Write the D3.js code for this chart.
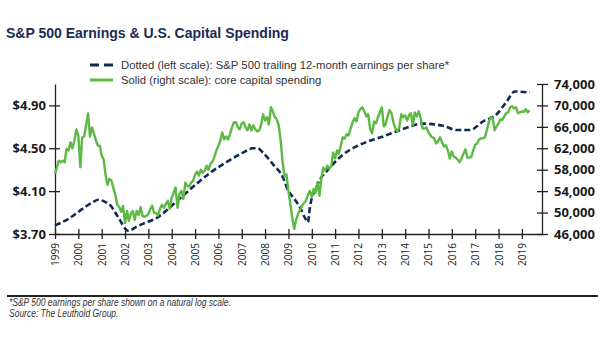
<!DOCTYPE html>
<html>
<head>
<meta charset="utf-8" />
<title>S&amp;P 500 Earnings &amp; U.S. Capital Spending</title>
<style>
  body { margin: 0; background: #fff; }
  svg { display: block; }
  .tick-lbl { font-family: "Open Sans", sans-serif; font-weight: 700; font-size: 13px; fill: #1a1a1a; }
  .year-lbl { font-family: "Open Sans", sans-serif; font-size: 10px; fill: #222; }
</style>
<script src="https://d3js.org/d3.v7.min.js"></script>
</head>
<body>
<svg id="chart"></svg>
<script>

// S&P 500 trailing 12-month EPS, natural log (left scale)
const earnYears = [1999.00, 1999.64, 2000.21, 2000.64, 2000.85, 2001.14, 2001.36, 2001.64, 2001.86, 2002.00,
                   2002.14, 2002.50, 2002.93, 2003.36, 2003.93, 2004.49, 2005.07, 2005.64, 2006.49, 2007.05,
                   2007.48, 2007.69, 2007.91, 2008.34, 2008.76, 2008.98, 2009.28, 2009.49, 2009.71, 2009.83,
                   2009.92, 2010.22, 2010.78, 2011.33, 2011.93, 2012.49, 2012.92, 2013.90, 2014.76, 2015.62,
                   2016.22, 2016.77, 2017.33, 2017.93, 2018.36, 2018.70, 2019.34];
const earnLog = [3.78, 3.85, 3.94, 4.00, 4.02, 4.00, 3.97, 3.88, 3.80, 3.75,
                 3.73, 3.77, 3.81, 3.85, 3.95, 4.06, 4.17, 4.27, 4.39, 4.46,
                 4.50, 4.50, 4.46, 4.35, 4.23, 4.11, 4.02, 3.95, 3.85, 3.81,
                 3.95, 4.15, 4.32, 4.44, 4.52, 4.57, 4.60, 4.68, 4.73, 4.71,
                 4.67, 4.67, 4.75, 4.82, 4.94, 5.03, 5.02];

// core capital spending, monthly from Jan 1999 (right scale)
const capexStart = [1999, 0];
const capexValues = [
  57200, 58450, 59700, 59350, 59700, 59400, 61900, 61600, 63100, 62000, 63500, 65500, // 1999
  64400, 58450, 64000, 64200, 66300, 68500, 64200, 65900, 64800, 63500, 62500, 62500, // 2000
  60650, 59900, 57100, 55200, 56300, 55950, 54650, 53300, 51450, 51050, 50150, 51250, // 2001
  48100, 50300, 48450, 49750, 50300, 48650, 50300, 49550, 51050, 49400, 49200, 49400, // 2002
  49700, 50700, 51250, 49950, 49950, 49450, 50700, 51450, 50900, 51600, 52200, 50700, // 2003
  52750, 53700, 54700, 50900, 53500, 54050, 52550, 55600, 55000, 54850, 55600, 55950, // 2004
  57100, 57650, 56900, 58000, 57450, 57850, 58750, 58000, 59150, 59500, 60450, 61600, // 2005
  62500, 63450, 64950, 63650, 64200, 63650, 64600, 65900, 66850, 66850, 65900, 65550, // 2006
  66650, 66850, 65900, 65350, 66450, 65350, 66300, 65550, 65150, 65350, 66450, 68350, // 2007
  67200, 67800, 66450, 69650, 68900, 67850, 67400, 66300, 63450, 59500, 56700, 57150, // 2008
  53900, 51450, 49000, 46950, 48650, 49750, 50500, 51250, 51800, 52200, 53300, 54050, // 2009
  52950, 54450, 53700, 55600, 53150, 56500, 58400, 57850, 58750, 58200, 58600, 61200, // 2010
  60100, 61600, 61000, 62550, 64050, 63850, 64600, 64400, 65700, 66850, 67600, 67000, // 2011
  68700, 69300, 69650, 68900, 67950, 68350, 65700, 64800, 67000, 66650, 67800, 68700, // 2012
  69650, 66100, 66450, 67950, 69100, 68550, 66850, 65700, 65150, 65900, 68350, 67800, // 2013
  68150, 67200, 68150, 68550, 66300, 68700, 67950, 68900, 67600, 65700, 65700, 65900, // 2014
  64950, 64400, 64050, 63850, 62900, 63300, 64050, 63100, 62350, 62550, 61600, 60100, // 2015
  61400, 60450, 60250, 59900, 59400, 60100, 61000, 61800, 60250, 60250, 60450, 61600, // 2016
  62700, 62900, 63650, 63850, 63850, 64050, 65350, 66850, 67800, 67600, 65350, 66100, // 2017
  66650, 67400, 67300, 67950, 68550, 68700, 69650, 69850, 69450, 69650, 68550, 68700, // 2018
  68900, 68800, 69300, 68700, 69100                                                    // 2019
];

const leftTicks = [3.70, 4.10, 4.50, 4.90];
const rightTicks = [46000, 50000, 54000, 58000, 62000, 66000, 70000, 74000];

const W = 605, H = 341;
const navy = "#0f2b54", green = "#5cb944";

function yearToDate(y) {
    const yr = Math.floor(y);
    const start = new Date(yr, 0, 1), end = new Date(yr + 1, 0, 1);
    return new Date(+start + (y - yr) * (end - start));
}

const earnings = earnYears.map((y, i) => ({ date: yearToDate(y), v: earnLog[i] }));
const capex = capexValues.map((v, i) => ({ date: new Date(capexStart[0], capexStart[1] + i, 1), v: v }));

const svg = d3.select("#chart").attr("width", W).attr("height", H);

const x = d3.scaleTime()
    .domain([new Date(1999, 0, 1), new Date(2019, 10, 12)])
    .range([55, 542]);
const yL = d3.scaleLinear().domain([3.70, 5.10]).range([234, 84]);
const yR = d3.scaleLinear().domain([46000, 74000]).range([234, 84]);

/* title + legend */

svg.append("text")
    .attr("x", 6).attr("y", 38)
    .style("font-family", "Liberation Sans, Arial, sans-serif")
    .style("font-weight", "700").style("font-size", "14px")
    .style("fill", "#1b2a55")
    .text("S&P 500 Earnings & U.S. Capital Spending");

const legend = svg.append("g").attr("transform", "translate(90,0)");
const legendItems = [
    { label: "Dotted (left scale): S&P 500 trailing 12-month earnings per share*", color: navy, dash: "9,5", y: 65 },
    { label: "Solid (right scale): core capital spending", color: green, dash: null, y: 80 }
];
legendItems.forEach(d => {
    legend.append("line")
        .attr("x1", 0).attr("x2", 23).attr("y1", d.y).attr("y2", d.y)
        .style("stroke", d.color).style("stroke-width", 3)
        .style("stroke-dasharray", d.dash);
    legend.append("text")
        .attr("x", 31).attr("y", d.y + 4)
        .style("font-family", "Liberation Sans, Arial, sans-serif")
        .style("font-size", "11.3px").style("fill", "#333")
        .text(d.label);
});

/* axes */

const xAxis = svg.append("g")
    .attr("transform", "translate(0,234)")
    .call(d3.axisBottom(x).ticks(d3.timeYear.every(1)).tickFormat(d3.timeFormat("%Y")).tickSizeOuter(0));
xAxis.selectAll(".tick line").attr("y1", -5).attr("y2", 5);
xAxis.selectAll(".tick text")
    .attr("class", "year-lbl")
    .attr("transform", "rotate(-90)")
    .attr("x", -9).attr("y", 0).attr("dy", "0.35em")
    .style("text-anchor", "end");

const leftAxis = svg.append("g")
    .attr("transform", "translate(55,0)")
    .call(d3.axisLeft(yL).tickValues(leftTicks).tickFormat(d => "$" + d.toFixed(2)).tickSizeOuter(0));
leftAxis.selectAll(".tick line").attr("x1", -6).attr("x2", 5);
leftAxis.selectAll(".tick text").attr("class", "tick-lbl").attr("x", -9);

const rightAxis = svg.append("g")
    .attr("transform", "translate(542,0)")
    .call(d3.axisRight(yR).tickValues(rightTicks).tickFormat(d3.format(",")).tickSizeOuter(0));
rightAxis.selectAll(".tick line").attr("x1", -5).attr("x2", 6);
rightAxis.selectAll(".tick text").attr("class", "tick-lbl").attr("x", 12);

svg.selectAll(".domain, .tick line").style("stroke", "#222").style("stroke-width", 1.3);

/* series */

svg.append("path")
    .datum(earnings)
    .attr("d", d3.line().x(d => x(d.date)).y(d => yL(d.v)).curve(d3.curveMonotoneX))
    .style("fill", "none").style("stroke", navy)
    .style("stroke-width", 2.6).style("stroke-dasharray", "6,3");

svg.append("path")
    .datum(capex)
    .attr("d", d3.line().x(d => x(d.date)).y(d => yR(d.v)))
    .style("fill", "none").style("stroke", green)
    .style("stroke-width", 2.4).style("stroke-linejoin", "round");

/* footnote */

svg.append("line")
    .attr("x1", 7).attr("x2", 598).attr("y1", 296).attr("y2", 296)
    .style("stroke", "#222").style("stroke-width", 2);

// narrow italic look: squeeze regular italic horizontally
const notes = ["*S&P 500 earnings per share shown on a natural log scale.", "Source: The Leuthold Group."];
svg.append("g")
    .attr("transform", "translate(9,0) scale(0.85,1)")
    .selectAll(".note")
    .data(notes)
    .enter()
    .append("text")
    .attr("class", "note")
    .attr("x", 0).attr("y", (d, i) => 306 + i * 11)
    .style("font-family", "Liberation Sans, Arial, sans-serif")
    .style("font-style", "italic").style("font-size", "10px").style("fill", "#333")
    .text(d => d);

</script>
</body>
</html>
